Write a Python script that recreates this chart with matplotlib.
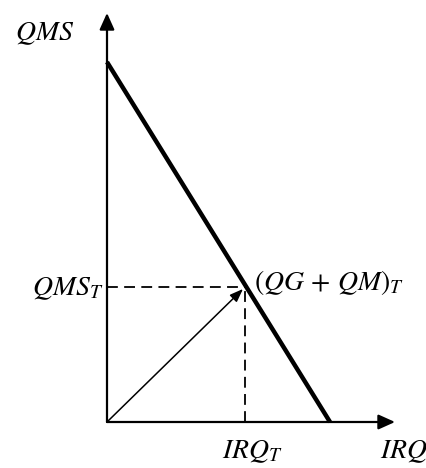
import matplotlib
matplotlib.use("Agg")
import matplotlib.pyplot as plt

plt.rcParams['mathtext.fontset'] = 'stix'
plt.rcParams['font.family'] = ['Liberation Serif', 'DejaVu Serif']

# Data (in chart units, origin at axes intersection)
supply_x = [0, 223]      # IRQ values of the QMS line endpoints
supply_y = [360, 0]      # QMS values of the line endpoints
point_irq = 138          # IRQ_T
point_qms = 135          # QMS_T
axis_x_max = 288
axis_y_max = 409

labels = {
    'y_axis': r'$QMS$',
    'x_axis': r'$IRQ$',
    'y_point': r'$QMS_T$',
    'x_point': r'$IRQ_T$',
    'point': r'$(QG\,+\,QM)_T$',
}

fig = plt.figure(figsize=(4.27, 4.68), dpi=100)
ax = fig.add_axes([0, 0, 1, 1])
ax.set_xlim(-107, 320)
ax.set_ylim(-46, 422)
ax.axis('off')

# axes with arrows
ax.annotate('', xy=(axis_x_max, 0), xytext=(0, 0),
            arrowprops=dict(arrowstyle='-|>,head_length=1.0,head_width=0.45',
                            lw=1.6, color='black', shrinkA=0, shrinkB=0))
ax.annotate('', xy=(0, axis_y_max), xytext=(0, 0),
            arrowprops=dict(arrowstyle='-|>,head_length=1.0,head_width=0.45',
                            lw=1.6, color='black', shrinkA=0, shrinkB=0))

# thick line
ax.plot(supply_x, supply_y, color='black', lw=3.2, solid_capstyle='butt')

# dashed guides
ax.plot([0, point_irq], [point_qms, point_qms], color='black', lw=1.3,
        dashes=(6, 3.5))
ax.plot([point_irq, point_irq], [0, point_qms], color='black', lw=1.3,
        dashes=(6, 3.5))

# arrow from origin
ax.annotate('', xy=(point_irq, point_qms), xytext=(0, 0),
            arrowprops=dict(arrowstyle='-|>,head_length=0.8,head_width=0.3',
                            lw=1.1, color='black', shrinkA=0, shrinkB=2))

fs = 20
ax.text(-92, 382, labels['y_axis'], fontsize=fs, ha='left', va='baseline')
ax.text(-4, 127, labels['y_point'], fontsize=fs, ha='right', va='baseline')
ax.text(147, 132, labels['point'], fontsize=fs, ha='left', va='baseline')
ax.text(115, -36, labels['x_point'], fontsize=fs, ha='left', va='baseline')
ax.text(273, -36, labels['x_axis'], fontsize=fs, ha='left', va='baseline')

fig.savefig('out.png', dpi=100)
